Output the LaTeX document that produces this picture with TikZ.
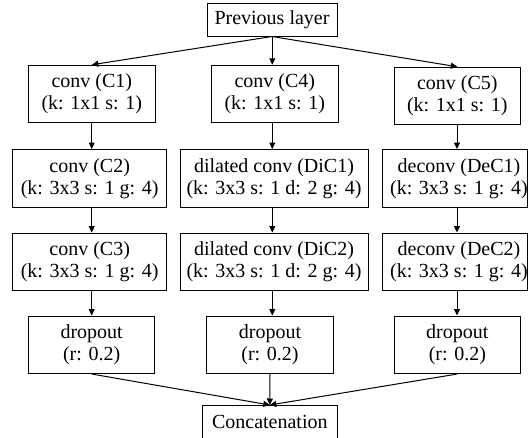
\documentclass[tikz,border=0pt]{standalone}
\usepackage{fontspec}
\setmainfont{Liberation Serif}
\usetikzlibrary{arrows.meta}

\begin{document}
\begin{tikzpicture}[x=1pt, y=-1pt,
  layer/.style={draw=black, line width=1pt, rectangle, inner sep=0pt,
    align=center, font=\fontsize{20}{22}\selectfont,
    minimum width=126.5pt, minimum height=57.5pt},
  single/.style={layer, minimum height=33pt},
  arr/.style={draw=black, line width=1pt, -{Triangle[length=6.5pt, width=6pt]}}
]
\useasboundingbox (0,0) rectangle (528,437);

% column axes for the vertical connectors
\coordinate (col1) at (91.7, 0);
\coordinate (col2) at (272.3, 0);
\coordinate (col3) at (457, 0);

% input
\node[single, minimum width=130pt] (prev) at (272, 19.5) {Previous layer};

% 1x1 convolutions
\node[layer] (c1) at (91.85, 94) {conv (C1)\\(k: 1x1 s: 1)};
\node[layer] (c4) at (274.85, 94) {conv (C4)\\(k: 1x1 s: 1)};
\node[layer] (c5) at (457.35, 96) {conv (C5)\\(k: 1x1 s: 1)};

% second stage
\node[layer, minimum width=154pt] (c2) at (89.7, 178.25) {conv (C2)\\(k: 3x3 s: 1 g: 4)};
\node[layer, minimum width=188pt] (dic1) at (274, 178.25) {dilated conv (DiC1)\\(k: 3x3 s: 1 d: 2 g: 4)};
\node[layer, minimum width=144pt] (dec1) at (455, 178.25)
  {\hspace*{8pt}deconv (DeC1)\\\hspace*{8pt}(k: 3x3 s: 1 g: 4)};

% third stage
\node[layer, minimum width=154pt] (c3) at (89.7, 261.75) {conv (C3)\\(k: 3x3 s: 1 g: 4)};
\node[layer, minimum width=188pt] (dic2) at (274, 261.75) {dilated conv (DiC2)\\(k: 3x3 s: 1 d: 2 g: 4)};
\node[layer, minimum width=144pt] (dec2) at (455, 261.75)
  {\hspace*{8pt}deconv (DeC2)\\\hspace*{8pt}(k: 3x3 s: 1 g: 4)};

% dropout
\node[layer] (d1) at (91.65, 344.75) {dropout\\(r: 0.2)};
\node[layer] (d2) at (270, 344.75) {dropout\\(r: 0.2)};
\node[layer] (d3) at (457.35, 344.75) {dropout\\(r: 0.2)};

% output
\node[single, minimum width=135pt] (cat) at (269.8, 422) {Concatenation};

% fan-out
\draw[arr] (prev.south) -- (c1.north);
\draw[arr] (prev.south -| col2) -- (c4.north -| col2);
\draw[arr] (prev.south) -- (c5.north);

% branch chains
\draw[arr] (c1.south -| col1) -- (c2.north -| col1);
\draw[arr] (c2.south -| col1) -- (c3.north -| col1);
\draw[arr] (c3.south -| col1) -- (d1.north -| col1);

\draw[arr] (c4.south -| col2) -- (dic1.north -| col2);
\draw[arr] (dic1.south -| col2) -- (dic2.north -| col2);
\draw[arr] (dic2.south -| col2) -- (d2.north -| col2);

\draw[arr] (c5.south -| col3) -- (dec1.north -| col3);
\draw[arr] (dec1.south -| col3) -- (dec2.north -| col3);
\draw[arr] (dec2.south -| col3) -- (d3.north -| col3);

% fan-in
\draw[arr] (d1.south) -- (cat.north);
\draw[arr] (d2.south) -- (cat.north);
\draw[arr] (d3.south) -- (cat.north);
\end{tikzpicture}
\end{document}
